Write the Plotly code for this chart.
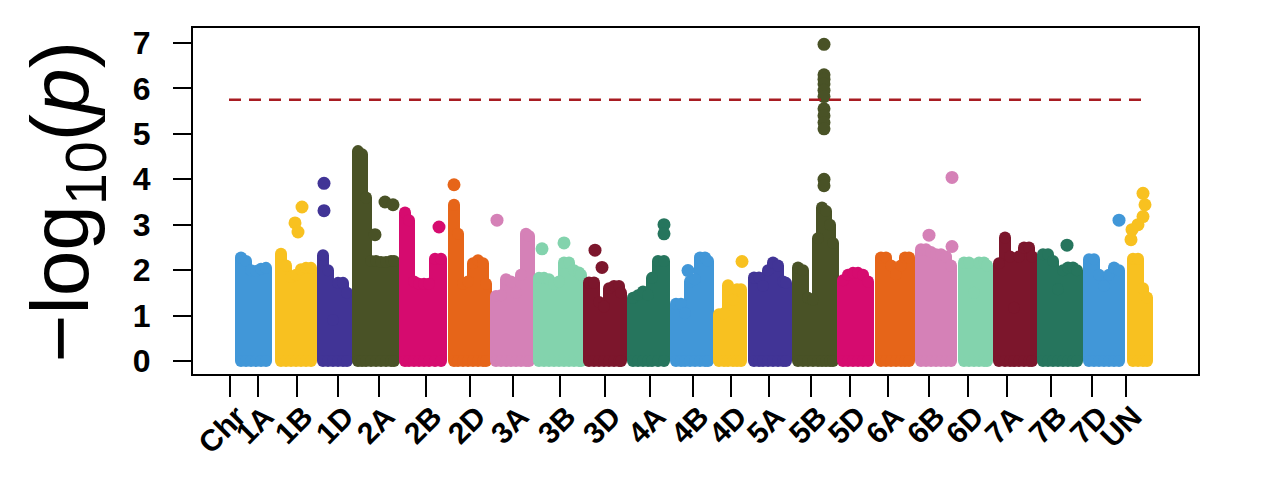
import plotly.graph_objects as go

# ---------------- data ----------------
chromosomes = ["1A", "1B", "1D", "2A", "2B", "2D", "3A", "3B", "3D", "4A", "4B",
               "4D", "5A", "5B", "5D", "6A", "6B", "6D", "7A", "7B", "7D", "UN"]
tick_labels = ["Chr"] + chromosomes
tick_positions = [37, 65, 104, 145, 186, 233, 277, 320, 367, 412, 457, 500,
                  538, 576, 618, 657, 695, 736, 775, 814, 858, 899, 933]

palette = ["#4197d8", "#f8c120", "#413496", "#495226", "#d60b6f",
           "#e66519", "#d581b7", "#83d3ad", "#7c162c", "#26755d"]

# dense SNP mass: cumulative position and upper -log10(p) envelope, per chromosome
mass_pos = [
    [48, 53, 58, 63, 68, 73],                                  # 1A
    [88, 93, 98, 103, 108, 113, 118],                          # 1B
    [130, 135, 140, 145, 150, 154],                            # 1D
    [165, 169, 173, 178, 183, 188, 193, 198, 201],             # 2A
    [212, 216, 221, 226, 231, 236, 242, 248],                  # 2B
    [261, 265, 270, 275, 280, 285, 290, 293],                  # 2D
    [303, 308, 313, 318, 323, 328, 333, 336],                  # 3A
    [346, 351, 356, 361, 366, 371, 376, 381, 386, 388],        # 3B
    [396, 401, 406, 411, 416, 421, 426, 428],                  # 3D
    [440, 445, 450, 455, 459, 465, 471],                       # 4A
    [483, 488, 492, 497, 502, 507, 512, 515],                  # 4B
    [526, 531, 535, 540, 544, 548],                            # 4D
    [561, 566, 570, 575, 580, 585, 590, 593],                  # 5A
    [605, 610, 615, 620, 625, 629, 633, 637, 640],             # 5B
    [650, 655, 660, 665, 670, 675],                            # 5D
    [688, 693, 698, 703, 708, 712, 716],                       # 6A
    [728, 733, 738, 743, 748, 753, 758],                       # 6B
    [771, 776, 781, 786, 791, 794],                            # 6D
    [806, 812, 817, 821, 826, 831, 836, 839],                  # 7A
    [850, 855, 860, 865, 870, 875, 880, 884],                  # 7B
    [896, 901, 906, 911, 916, 921, 926],                       # 7D
    [940, 945, 950, 954],                                      # UN
]
mass_logp = [
    [2.28, 2.20, 2.00, 1.98, 2.03, 2.05],
    [2.36, 2.10, 1.85, 1.90, 2.02, 2.05, 2.05],
    [2.33, 2.00, 0.90, 1.72, 1.72, 1.50],
    [4.62, 4.55, 3.60, 2.20, 2.20, 2.18, 2.18, 2.20, 2.20],
    [3.27, 3.10, 1.75, 1.70, 1.70, 1.70, 2.25, 2.25],
    [3.44, 2.80, 1.70, 1.75, 2.15, 2.22, 2.15, 1.70],
    [1.43, 1.45, 1.80, 1.75, 1.50, 1.90, 2.80, 2.75],
    [1.83, 1.83, 1.80, 1.70, 1.75, 2.17, 2.17, 2.00, 1.95, 1.90],
    [1.73, 1.73, 1.30, 1.20, 1.60, 1.65, 1.65, 1.50],
    [1.39, 1.45, 1.53, 1.45, 1.83, 2.20, 2.20],
    [1.26, 1.26, 1.05, 1.75, 1.80, 2.28, 2.28, 2.20],
    [1.03, 1.05, 1.67, 1.35, 1.58, 1.58],
    [1.84, 1.84, 1.65, 2.00, 2.17, 2.10, 1.75, 1.72],
    [2.06, 2.00, 1.39, 1.35, 2.70, 3.38, 3.30, 3.00, 2.60],
    [1.78, 1.90, 1.94, 1.94, 1.90, 1.75],
    [2.28, 2.28, 2.10, 1.91, 2.10, 2.28, 2.28],
    [2.46, 2.46, 2.40, 2.35, 2.35, 2.30, 2.10],
    [2.17, 2.17, 1.50, 2.17, 2.17, 2.10],
    [2.15, 2.72, 2.30, 1.17, 2.30, 2.50, 2.50, 2.30],
    [2.35, 2.35, 2.20, 1.58, 2.00, 2.06, 2.06, 2.00],
    [2.24, 2.24, 1.90, 1.65, 1.90, 2.06, 2.00],
    [2.25, 2.25, 1.60, 1.40],
]

# isolated SNPs standing above the mass
hit_pos = [
    [], [109, 102, 105], [131, 131], [182, 192, 200], [246], [261], [304],
    [349, 371], [402, 409], [471, 471], [495], [549], [],
    [631, 631, 631, 631, 631, 631, 631, 631, 631, 631, 631, 631],
    [], [], [736, 759, 759], [], [], [874], [926],
    [950, 952, 950, 945, 939, 938],
]
hit_logp = [
    [], [3.39, 3.04, 2.84], [3.91, 3.31], [2.78, 3.50, 3.44], [2.95], [3.88], [3.10],
    [2.47, 2.60], [2.44, 2.06], [3.00, 2.80], [1.99], [2.19], [],
    [6.97, 6.30, 6.20, 6.10, 5.96, 5.82, 5.55, 5.40, 5.25, 5.11, 4.00, 3.86],
    [], [], [2.77, 2.52, 4.04], [], [], [2.55], [3.10],
    [3.69, 3.44, 3.18, 3.00, 2.89, 2.67],
]

threshold = 5.75
threshold_span = [36, 949]
y_ticks = [0, 1, 2, 3, 4, 5, 6, 7]

# ---------------- figure ----------------
DOT = 12
fig = go.Figure()
for i, chrom in enumerate(chromosomes):
    col = palette[i % len(palette)]
    xs, ys = [], []
    for p, v in zip(mass_pos[i], mass_logp[i]):
        xs += [p, p, None]
        ys += [0, v, None]
    fig.add_trace(go.Scatter(
        x=xs, y=ys, mode="lines+markers", name=chrom, showlegend=False,
        line=dict(color=col, width=DOT),
        marker=dict(color=col, size=DOT, line=dict(width=0)),
        hoverinfo="skip"))
    if hit_pos[i]:
        fig.add_trace(go.Scatter(
            x=hit_pos[i], y=hit_logp[i], mode="markers", showlegend=False,
            marker=dict(color=col, size=DOT + 1, line=dict(width=0))))

fig.add_trace(go.Scatter(
    x=threshold_span, y=[threshold, threshold], mode="lines", showlegend=False,
    line=dict(color="#a81c22", width=2.5, dash="12px,8px")))

font_family = "Liberation Sans, Arial, sans-serif"
fig.update_layout(
    width=1282, height=490,
    margin=dict(l=185, r=92, t=20, b=124, autoexpand=False),
    plot_bgcolor="white", paper_bgcolor="white",
    font=dict(family=font_family, color="black"),
    xaxis=dict(range=[0, 1005], showgrid=False, zeroline=False,
               showline=True, mirror=True, linecolor="black", linewidth=2,
               ticks="outside", ticklen=21, tickwidth=2, tickcolor="black",
               tickmode="array", tickvals=tick_positions, ticktext=tick_labels,
               tickangle=-45, automargin=False,
               ticklabelshift=7, ticklabelstandoff=-10,
               tickfont=dict(size=30, family=font_family, weight="bold")),
    yaxis=dict(range=[-0.286, 7.33], showgrid=False, zeroline=False,
               showline=True, mirror=True, linecolor="black", linewidth=2,
               ticks="outside", ticklen=18, tickwidth=2, tickcolor="black",
               tickmode="array", tickvals=y_ticks, automargin=False,
               ticklabelstandoff=16,
               tickfont=dict(size=32, family=font_family, weight="bold")),
    annotations=[dict(
        text="\u2212log<sub>10</sub>(<i>p</i>)",
        xref="paper", yref="paper", x=-0.1264, y=0.4986,
        xanchor="center", yanchor="middle", textangle=-90, showarrow=False,
        font=dict(size=82, family=font_family, color="black"))],
)

fig.write_html("out.html")
